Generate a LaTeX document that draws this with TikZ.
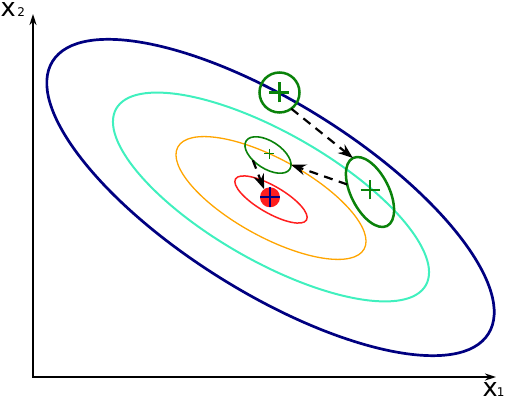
\documentclass[tikz,border=0pt]{standalone}
\usepackage{fontspec}
\setmainfont{DejaVu Sans}
\usetikzlibrary{arrows.meta,shapes.geometric}
\definecolor{navyc}{RGB}{0,0,128}
\definecolor{aquac}{RGB}{64,240,190}
\definecolor{orangec}{RGB}{255,165,0}
\definecolor{redc}{RGB}{255,30,30}
\definecolor{greenc}{RGB}{10,130,10}
\begin{document}
\begin{tikzpicture}[x=1pt,y=1pt,
  axis/.style={line width=2.2pt,{Stealth[length=11pt,width=7pt]}-{Stealth[length=11pt,width=7pt]}},
  lbl/.style={anchor=base west,inner sep=0pt,font=\fontsize{25.6}{26}\selectfont},
  gshape/.style={draw=greenc,inner sep=0pt,outer sep=0pt},
  gplus/.style={draw=greenc,line width=2.5pt},
  arrowdash/.style={line width=2.2pt,dash pattern=on 9pt off 6.5pt,-{Stealth[length=15pt,width=11pt,inset=5pt]}}]
\useasboundingbox (0,0) rectangle (508,401);
% axes
\coordinate (O) at (33,24);
\coordinate (ytip) at (33,387);
\coordinate (xtip) at (496,24);
\draw[axis] (ytip) -- (O) -- (xtip);
\node[lbl] (lx2) at (0.5,384.5) {x\kern1.5pt{\fontsize{12}{12}\selectfont 2}};
\node[lbl] (lx1) at (482.5,4.5) {x\kern-1pt{\fontsize{12}{12}\selectfont 1}};
% level sets
\draw[navyc,line width=2.7pt,rotate around={-32:(270.5,203.5)}] (270.5,203.5) ellipse [x radius=257pt,y radius=94.8pt];
\draw[aquac,line width=2pt,rotate around={-29.7:(271,204)}] (271,204) ellipse [x radius=178.2pt,y radius=64.2pt];
\draw[orangec,line width=1.3pt,rotate around={-28.7:(271,203)}] (271,203) ellipse [x radius=106.2pt,y radius=39pt];
\draw[redc,line width=1.5pt,rotate around={-30:(271,201.5)}] (271,201.5) ellipse [x radius=41pt,y radius=13.5pt];
% optimum
\node[circle,fill=redc,minimum size=20pt,inner sep=0pt,outer sep=0pt] (dot) at (270,203.7) {};
\draw[navyc,line width=2pt] (dot.north) -- (dot.south) (dot.west) -- (dot.east);
% green iterates
\node[gshape,circle,minimum size=40pt,line width=2.5pt] (c1) at (279.5,308.5) {};
\node[gshape,ellipse,minimum width=38pt,minimum height=76pt,rotate=26.7,line width=2.5pt] (e2) at (370,209) {};
\node[gshape,ellipse,minimum width=52pt,minimum height=27.4pt,rotate=-33,line width=1.6pt] (e3) at (268,246) {};
\draw[gplus] (279.3,298.7) -- (279.3,318.7) (269.3,308.7) -- (289.3,308.7);
\draw[gplus] (370,201.5) -- (370,220.5) (360.5,211) -- (379.5,211);
\draw[gplus,line width=1pt] (269,242) -- (269,252) (264,247) -- (274,247);
% steps
\draw[arrowdash] (c1.-54) -- (e2.north);
\draw[arrowdash] (e2.135) -- (e3.10);
\draw[arrowdash] (e3.232) -- (dot.126);
\end{tikzpicture}
\end{document}
